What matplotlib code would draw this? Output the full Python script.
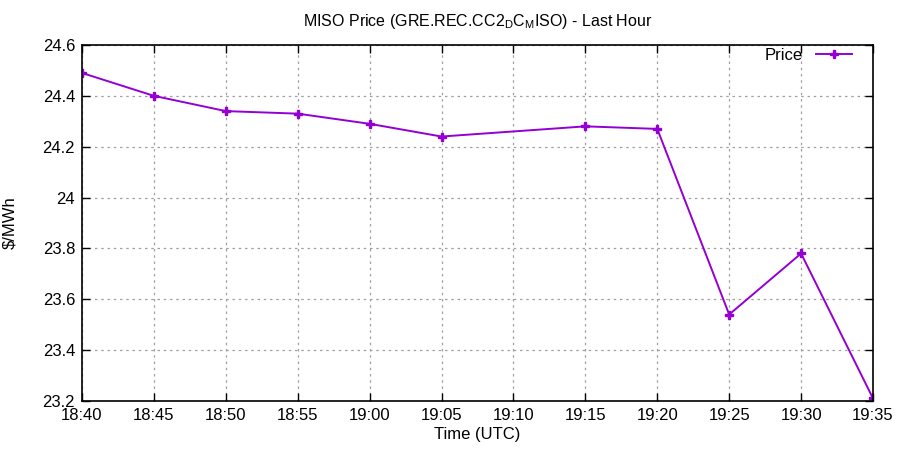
import matplotlib
matplotlib.use('Agg')
import matplotlib.pyplot as plt
import matplotlib.dates as mdates
import pandas as pd

# data
times = ['18:40', '18:45', '18:50', '18:55', '19:00', '19:05',
         '19:15', '19:20', '19:25', '19:30', '19:35']
price = [24.49, 24.40, 24.34, 24.33, 24.29, 24.24,
         24.28, 24.27, 23.54, 23.78, 23.21]
x_ticks = ['18:40', '18:45', '18:50', '18:55', '19:00', '19:05',
           '19:10', '19:15', '19:20', '19:25', '19:30', '19:35']
y_ticks = [23.2, 23.4, 23.6, 23.8, 24.0, 24.2, 24.4, 24.6]

plt.rcParams['font.family'] = ['Liberation Sans', 'DejaVu Sans']

t = pd.to_datetime(['2024-01-01 ' + s for s in times])
tt = pd.to_datetime(['2024-01-01 ' + s for s in x_ticks])

fig = plt.figure(figsize=(9, 4.5), dpi=100)
ax = fig.add_axes([0.0911, 0.109, 0.8789, 0.791])

ax.plot(t, price, color='#9400d3', lw=1.4, marker='P', ms=6,
        mec='#9400d3', label='Price')

ax.set_xlim(tt[0], tt[-1])
ax.set_ylim(23.2, 24.6)
ax.set_xticks(tt)
ax.xaxis.set_major_formatter(mdates.DateFormatter('%H:%M'))
ax.set_yticks(y_ticks)
ax.set_yticklabels(['23.2', '23.4', '23.6', '23.8', '24', '24.2', '24.4', '24.6'])

ax.grid(True, color='#a0a0a0', linestyle=(0, (2, 3)), lw=0.9)
ax.tick_params(direction='in', length=6, width=1, labelsize=12,
               top=True, right=True, pad=5, colors='black')
for s in ax.spines.values():
    s.set_linewidth(1.2)

ax.set_xlabel('Time (UTC)', fontsize=12, labelpad=3)
ax.set_ylabel('$/MWh', fontsize=12, labelpad=18)
ax.set_title(r'MISO Price (GRE.REC.CC2$\mathregular{_D}$C$\mathregular{_M}$ISO) - Last Hour',
             fontsize=11.5, pad=14)

ax.legend(loc='upper right', frameon=False, markerfirst=False, fontsize=12,
          handlelength=2.2, bbox_to_anchor=(0.993, 1.035))

fig.savefig('out.png', dpi=100)
